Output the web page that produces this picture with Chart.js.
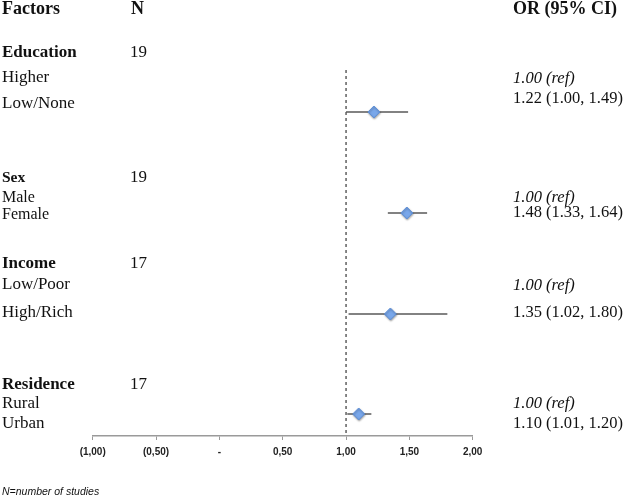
<!DOCTYPE html>
<html>
<head>
<meta charset="utf-8">
<script src="https://cdn.jsdelivr.net/npm/chart.js@4/dist/chart.umd.min.js"></script>
<style>
  body { margin: 0; background: #fff; }
  #wrap { position: relative; width: 627px; height: 497px; }
</style>
</head>
<body>
<div id="wrap"><canvas id="forestChart"></canvas></div>
<script>
// Forest plot data
const factors = ["Education", "Sex", "Income", "Residence"];
const studies = [19, 19, 17, 17];
const refLevels = ["Higher", "Male", "Low/Poor", "Rural"];
const cmpLevels = ["Low/None", "Female", "High/Rich", "Urban"];
const orValues = [1.22, 1.48, 1.35, 1.10];
const ciLower = [1.00, 1.33, 1.02, 1.01];
const ciUpper = [1.49, 1.64, 1.80, 1.20];
const tickValues = [-1, -0.5, 0, 0.5, 1, 1.5, 2];
const tickLabels = ["(1,00)", "(0,50)", "-", "0,50", "1,00", "1,50", "2,00"];
const refValue = 1;

// layout (pixel rows, y scale runs 0..436 top to bottom)
const markerRowY = [112, 213, 314, 414];
const groupRowY = [53, 178, 264, 385];
const refRowY = [78, 198, 285, 404];
const cmpRowY = [104, 215, 313, 424];
const refTextY = [79, 198, 286, 404];
const cmpTextY = [99, 213, 313, 424];
const groupSize = [17, 15.5, 17, 17];
const labelSize = [17, 16, 17, 17];
const refLineTop = 70;
const axisBottom = 436;

function fmt(v) { return v.toFixed(2); }

const ciSets = factors.map((f, i) => ({
  type: "line",
  data: [{ x: ciLower[i], y: markerRowY[i] }, { x: ciUpper[i], y: markerRowY[i] }],
  borderColor: "#585858",
  borderWidth: 1.6,
  pointRadius: 0,
  order: 2,
}));

const ctx = document.getElementById("forestChart").getContext("2d");

const tablePlugin = {
  id: "tableText",
  beforeDatasetDraw(chart, args) {
    if (args.index === chart.data.datasets.length - 1) {
      const c = chart.ctx;
      c.save();
      c.shadowColor = "rgba(0,0,0,0.35)";
      c.shadowBlur = 2;
      c.shadowOffsetX = 0.5;
      c.shadowOffsetY = 1;
    }
  },
  afterDatasetDraw(chart, args) {
    if (args.index === chart.data.datasets.length - 1) chart.ctx.restore();
  },
  afterDraw(chart) {
    const c = chart.ctx;
    c.save();
    c.fillStyle = "#111";
    c.textBaseline = "middle";
    c.textAlign = "left";
    c.font = "bold 18px 'Liberation Serif'";
    c.fillText("Factors", 2, 9);
    c.fillText("N", 131, 9);
    c.fillText("OR (95% CI)", 513, 9);
    factors.forEach((f, i) => {
      c.font = "bold " + groupSize[i] + "px 'Liberation Serif'";
      c.fillText(f, 2, groupRowY[i]);
      c.font = "17px 'Liberation Serif'";
      c.fillText(String(studies[i]), 130, groupRowY[i]);
      c.font = labelSize[i] + "px 'Liberation Serif'";
      c.fillText(refLevels[i], 2, refRowY[i]);
      c.fillText(cmpLevels[i], 2, cmpRowY[i]);
      c.font = "italic 16.5px 'Liberation Serif'";
      c.fillText(fmt(refValue) + " (ref)", 513, refTextY[i]);
      c.font = "16.5px 'Liberation Serif'";
      c.fillText(fmt(orValues[i]) + " (" + fmt(ciLower[i]) + ", " + fmt(ciUpper[i]) + ")", 513, cmpTextY[i]);
    });
    c.font = "italic 10.5px 'Liberation Sans'";
    c.fillText("N=number of studies", 2, 492);
    c.restore();
  },
};

const forestChart = new Chart(ctx, {
  type: "scatter",
  data: {
    datasets: [
      {
        type: "line",
        data: [{ x: refValue, y: refLineTop }, { x: refValue, y: axisBottom }],
        borderColor: "#111",
        borderWidth: 1,
        borderDash: [3, 3],
        pointRadius: 0,
        order: 3,
      },
      ...ciSets,
      {
        data: orValues.map((v, i) => ({ x: v, y: markerRowY[i] })),
        pointStyle: "rectRot",
        pointRadius: 6,
        pointBackgroundColor: "#79a7ea",
        pointBorderColor: "#5d8fd8",
        pointBorderWidth: 1,
        order: 1,
      },
    ],
  },
  options: {
    responsive: true,
    maintainAspectRatio: false,
    animation: false,
    layout: { autoPadding: false, padding: { left: 92.7, right: 154.3, top: 0, bottom: 33 } },
    plugins: {
      legend: { display: false },
      tooltip: { enabled: false },
    },
    scales: {
      x: {
        type: "linear",
        min: -1,
        max: 2,
        afterBuildTicks: (scale) => {
          scale.ticks = tickValues.map((v) => ({ value: v }));
        },
        ticks: {
          callback: (v) => tickLabels[tickValues.indexOf(v)],
          font: { family: "'Liberation Sans'", weight: "bold", size: 10 },
          color: "#222",
          padding: 6,
          maxRotation: 0,
        },
        grid: { drawOnChartArea: false, drawTicks: true, tickLength: 4, color: "#9a9a9a" },
        border: { display: true, color: "#9a9a9a", width: 1.5 },
      },
      y: {
        type: "linear",
        display: false,
        reverse: true,
        min: 0,
        max: axisBottom,
      },
    },
  },
  plugins: [tablePlugin],
});
</script>
</body>
</html>
